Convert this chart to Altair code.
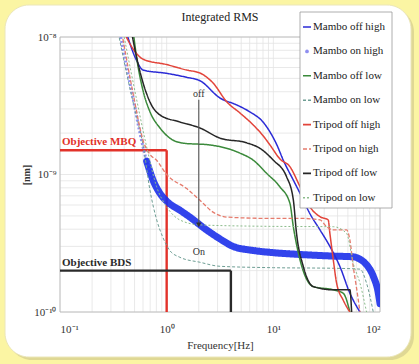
import altair as alt
import pandas as pd

# ---- series data: frequency [Hz] and integrated RMS ----
SERIES = ["Mambo off high", "Mambo on high", "Mambo off low", "Mambo on low",
          "Tripod off high", "Tripod on high", "Tripod off low", "Tripod on low"]

mambo_off_high_f = [0.42, 0.52, 0.60, 1.0, 1.54, 2.05, 3.16, 4.56, 6.04, 8.0, 9.3, 10.8, 12.4,
                    15.4, 17.8, 22.0, 27.4, 33.9, 42.1, 52.2, 64.9]
mambo_off_high_v = [1.07e-8, 6.8e-9, 5.75e-9, 5.44e-9, 5.09e-9, 4.81e-9, 3.6e-9, 3.2e-9, 2.85e-9,
                    2.41e-9, 2.04e-9, 1.64e-9, 1.27e-9, 9.1e-10, 7.3e-10, 5.2e-10, 3.95e-10,
                    3.0e-10, 2.14e-10, 1.37e-10, 1.0e-10]

mambo_on_high_f = [0.365, 0.422, 0.487, 0.562, 0.649, 0.749, 0.865, 1.0, 1.33, 1.65, 2.37, 3.16,
                   4.2, 6.49, 10.0, 17.8, 36.5, 56.0, 66.0, 75.0, 87.0, 96.0, 100.0]
mambo_on_high_v = [1.07e-8, 6.0e-9, 3.5e-9, 2.0e-9, 1.25e-9, 9.0e-10, 7.3e-10, 6.4e-10, 5.5e-10,
                   4.9e-10, 3.95e-10, 3.4e-10, 3.0e-10, 2.8e-10, 2.7e-10, 2.62e-10, 2.55e-10,
                   2.52e-10, 2.4e-10, 2.2e-10, 1.8e-10, 1.4e-10, 1.15e-10]

mambo_off_low_f = [0.487, 0.524, 0.604, 0.697, 0.865, 1.07, 1.43, 2.55, 4.87, 6.49, 8.65, 11.5,
                   14.3, 15.4, 17.8, 23.7, 36.5, 45.2, 52.2]
mambo_off_low_v = [1.07e-8, 7.0e-9, 4.0e-9, 2.86e-9, 2.18e-9, 1.84e-9, 1.69e-9, 1.64e-9, 1.43e-9,
                   1.27e-9, 1.02e-9, 8.15e-10, 6.18e-10, 4.17e-10, 2.39e-10, 1.53e-10, 1.45e-10,
                   1.37e-10, 1.0e-10]

mambo_on_low_f = [0.352, 0.422, 0.487, 0.56, 0.604, 0.697, 0.805, 0.92, 1.07, 1.33, 2.05, 3.16,
                  10.0, 36.5, 64.9, 74.8, 86.5]
mambo_on_low_v = [1.07e-8, 5.4e-9, 3.3e-9, 2.1e-9, 1.6e-9, 7.7e-10, 4.7e-10, 3.5e-10, 2.8e-10,
                  2.5e-10, 2.3e-10, 2.15e-10, 2.1e-10, 2.08e-10, 2.05e-10, 1.62e-10, 1.0e-10]

tripod_off_high_f = [0.40, 0.52, 0.60, 1.0, 1.54, 2.05, 2.72, 3.67, 4.87, 6.49, 7.9, 9.3, 11.5,
                     14.3, 17.8, 22.0, 27.4, 32.7, 33.9, 36.5, 39.2, 45.2, 52.2]
tripod_off_high_v = [1.07e-8, 7.6e-9, 6.9e-9, 6.3e-9, 5.75e-9, 5.47e-9, 4.63e-9, 3.37e-9, 2.8e-9,
                     2.29e-9, 1.94e-9, 1.64e-9, 1.3e-9, 1.14e-9, 8.15e-10, 5.83e-10, 4.93e-10,
                     4.67e-10, 3.73e-10, 2.39e-10, 1.62e-10, 1.22e-10, 1.0e-10]

tripod_on_high_f = [0.38, 0.487, 0.604, 0.697, 0.805, 1.0, 1.54, 2.05, 2.74, 3.65, 8.65, 17.8,
                    27.4, 31.6, 36.5, 48.6, 52.2, 56.1, 60.0, 64.9]
tripod_on_high_v = [1.07e-8, 3.8e-9, 1.75e-9, 1.4e-9, 1.27e-9, 1.0e-9, 7.9e-10, 6.5e-10, 5.3e-10,
                    4.9e-10, 4.8e-10, 4.8e-10, 4.67e-10, 4.17e-10, 3.95e-10, 3.95e-10, 3.34e-10,
                    2.14e-10, 1.53e-10, 1.0e-10]

tripod_off_low_f = [0.47, 0.524, 0.697, 0.865, 1.33, 2.05, 3.16, 5.62, 7.49, 10.0, 13.3, 15.4,
                    16.5, 19.1, 23.7, 36.5, 52.2, 54.2]
tripod_off_low_v = [1.07e-8, 7.04e-9, 3.37e-9, 2.71e-9, 2.41e-9, 2.18e-9, 1.84e-9, 1.7e-9, 1.55e-9,
                    1.27e-9, 9.64e-10, 6.53e-10, 3.73e-10, 2.14e-10, 1.53e-10, 1.45e-10, 1.45e-10,
                    1.0e-10]

tripod_on_low_f = [0.393, 0.524, 0.649, 0.805, 1.0, 1.33, 2.05, 8.65, 36.5, 48.6, 56.1, 64.9, 74.8]
tripod_on_low_v = [1.07e-8, 3.48e-9, 1.59e-9, 8.15e-10, 5.83e-10, 4.67e-10, 4.3e-10, 4.2e-10,
                   4.17e-10, 3.73e-10, 2.26e-10, 1.62e-10, 1.0e-10]

# objective limits
mbq_level, mbq_freq = 1.5e-9, 1.0
bds_level, bds_freq = 2.0e-10, 4.0
arrow_freq, arrow_top, arrow_bottom = 2.0, 3.5e-9, 4.3e-10

x_ticks = [0.1, 1, 10, 100]
y_ticks = [1e-10, 1e-9, 1e-8]

# ---- styling ----
COLORS = ["#2b2bd6", "#1c30ea", "#3b8a3b", "#6e9e94", "#e2443a", "#e57b6c", "#262626", "#8cbc8c"]
DASHES = [[1, 0], [1, 0], [1, 0], [3, 2], [1, 0], [4, 2], [1, 0], [2, 2]]
WIDTHS = [1.5, 7, 1.5, 1.0, 1.5, 1.3, 1.5, 1.0]
SERIF = "Liberation Serif"

# legend box geometry (pixels, relative to the plot area)
LEG_X0, LEG_X1, LEG_Y0, LEG_Y1 = 240, 332, -25, 171
LEG_ROW0, LEG_STEP = -10, 24.4

rows = []
for i, (fs, vs) in enumerate([
    (mambo_off_high_f, mambo_off_high_v),
    (mambo_on_high_f, mambo_on_high_v),
    (mambo_off_low_f, mambo_off_low_v),
    (mambo_on_low_f, mambo_on_low_v),
    (tripod_off_high_f, tripod_off_high_v),
    (tripod_on_high_f, tripod_on_high_v),
    (tripod_off_low_f, tripod_off_low_v),
    (tripod_on_low_f, tripod_on_low_v),
]):
    for f, v in zip(fs, vs):
        rows.append({"series": SERIES[i], "f": f, "v": v, "w": WIDTHS[i]})
df = pd.DataFrame(rows)

SUP = str.maketrans("-0123456789", "⁻⁰¹²³⁴⁵⁶⁷⁸⁹")


def pow_label_expr(ticks, exps):
    expr = "'10" + str(exps[-1]).translate(SUP) + "'"
    for t, e in reversed(list(zip(ticks[:-1], exps[:-1]))):
        expr = f"datum.value < {t * 3} ? '10{str(e).translate(SUP)}' : " + expr
    return expr


x_scale = alt.Scale(type="log", domain=[0.1, 100], nice=False)
y_scale = alt.Scale(type="log", domain=[1e-10, 1e-8], nice=False)

x_axis = alt.Axis(values=x_ticks, labelExpr=pow_label_expr(x_ticks, [-1, 0, 1, 2]),
                  grid=False, ticks=False, domain=False, title="Frequency[Hz]",
                  labelFont=SERIF, labelFontSize=11, labelColor="#333", labelPadding=11,
                  titleFont=SERIF, titleFontSize=11, titleFontWeight="normal",
                  titleColor="#333", titlePadding=5, zindex=1)
y_axis = alt.Axis(values=y_ticks, labelExpr=pow_label_expr(y_ticks, [-10, -9, -8]),
                  grid=False, ticks=False, domain=False, title="[nm]",
                  labelFont=SERIF, labelFontSize=11, labelColor="#333", labelPadding=4,
                  titleFont=SERIF, titleFontSize=10, titleFontWeight="bold",
                  titleColor="#333", titlePadding=2, zindex=1)

X = alt.X("f:Q", scale=x_scale, axis=x_axis)
Y = alt.Y("v:Q", scale=y_scale, axis=y_axis)

color = alt.Color("series:N", scale=alt.Scale(domain=SERIES, range=COLORS), legend=None)
dash = alt.StrokeDash("series:N", scale=alt.Scale(domain=SERIES, range=DASHES), legend=None)
width = alt.StrokeWidth("w:Q", scale=None)

one = pd.DataFrame({"k": [0]})

# white rounded panel with a soft shadow
shadow = alt.Chart(one).mark_rect(fill="#d8d190", cornerRadius=24, opacity=0.8).encode(
    x=alt.value(-52), x2=alt.value(354), y=alt.value(-29), y2=alt.value(323))
panel = alt.Chart(one).mark_rect(fill="white", cornerRadius=24, stroke="#ebe6b8").encode(
    x=alt.value(-55), x2=alt.value(351), y=alt.value(-32), y2=alt.value(320))

# log grid lines at 1..9 x 10^k
x_grid = [m * 10 ** k for k in (-1, 0, 1) for m in range(1, 10)] + [100]
y_grid = [m * 10 ** k for k in (-10, -9) for m in range(1, 10)] + [1e-8]
grid_x = alt.Chart(pd.DataFrame({"f": x_grid})).mark_rule(color="#e3e3e3", strokeWidth=0.8).encode(x=X)
grid_y = alt.Chart(pd.DataFrame({"v": y_grid})).mark_rule(color="#e3e3e3", strokeWidth=0.8).encode(y=Y)
frame = alt.Chart(one).mark_rect(fill=None, stroke="#b5b5b5", strokeWidth=0.8).encode(
    x=alt.value(0), x2=alt.value(320), y=alt.value(0), y2=alt.value(275))

# chart title
title = alt.Chart(pd.DataFrame({"t": ["Integrated RMS"]})).mark_text(
    font=SERIF, fontSize=12, color="#222", baseline="middle").encode(
    x=alt.value(160), y=alt.value(-20), text="t:N")

# objectives
obj = pd.DataFrame([
    {"f": 0.1, "f2": mbq_freq, "v": mbq_level, "v2": mbq_level, "c": "#e2322a"},
    {"f": mbq_freq, "f2": mbq_freq, "v": mbq_level, "v2": 1e-10, "c": "#e2322a"},
    {"f": 0.1, "f2": bds_freq, "v": bds_level, "v2": bds_level, "c": "#2a2a2a"},
    {"f": bds_freq, "f2": bds_freq, "v": bds_level, "v2": 1e-10, "c": "#2a2a2a"},
])
obj_rules = alt.Chart(obj).mark_rule(strokeWidth=2.4).encode(
    x=X, x2="f2:Q", y=Y, y2="v2:Q", color=alt.Color("c:N", scale=None, legend=None))
obj_text = alt.Chart(pd.DataFrame([
    {"f": 0.1, "v": mbq_level, "t": "Objective MBQ", "c": "#e2322a"},
    {"f": 0.1, "v": bds_level, "t": "Objective BDS", "c": "#2a2a2a"},
])).mark_text(align="left", baseline="bottom", dx=2, dy=-3, font=SERIF, fontSize=11,
              fontWeight="bold").encode(
    x=X, y=Y, text="t:N", color=alt.Color("c:N", scale=None, legend=None))

# curves: "on high" marker trace first (sparse dots on the steep part, dense band after),
# then the other traces on top
on_high = df[df.series == SERIES[1]]
band_steep = alt.Chart(on_high[on_high.f <= 0.75]).mark_line(
    color="#7d7ff0", strokeWidth=3, strokeDash=[2, 2], opacity=0.85, clip=True,
    interpolate="monotone").encode(x=X, y=Y)
band = alt.Chart(on_high[on_high.f >= 0.64]).mark_line(
    opacity=0.9, clip=True, interpolate="monotone", strokeCap="round").encode(
    x=X, y=Y, color=color, strokeDash=dash, strokeWidth=width)
lines = alt.Chart(df[df.series != SERIES[1]]).mark_line(
    clip=True, interpolate="monotone").encode(
    x=X, y=Y, color=color, strokeDash=dash, strokeWidth=width)

# off -> on arrow
arrow_df = pd.DataFrame({"f": [arrow_freq], "v": [arrow_top], "v2": [arrow_bottom]})
arrow_line = alt.Chart(arrow_df).mark_rule(color="#555", strokeWidth=1.1).encode(x=X, y=Y, y2="v2:Q")
arrow_head = alt.Chart(pd.DataFrame({"f": [arrow_freq], "v": [arrow_bottom]})).mark_point(
    shape="triangle-down", filled=True, color="#333", size=28, opacity=1).encode(x=X, y=Y)
off_text = alt.Chart(pd.DataFrame([{"f": arrow_freq, "v": arrow_top, "t": "off"}])).mark_text(
    baseline="bottom", dy=-1, font=SERIF, fontSize=10, color="#333").encode(x=X, y=Y, text="t:N")
on_text = alt.Chart(pd.DataFrame([{"f": arrow_freq, "v": 2.75e-10, "t": "On"}])).mark_text(
    baseline="middle", font=SERIF, fontSize=10, color="#333").encode(x=X, y=Y, text="t:N")

# legend: box, line samples and labels, one row per series
leg = pd.DataFrame({"series": SERIES,
                    "ly": [LEG_ROW0 + LEG_STEP * i for i in range(len(SERIES))]})
LY = alt.Y("ly:Q", scale=None, axis=None)
leg_box = alt.Chart(one).mark_rect(fill="white", stroke="#9a9a9a", strokeWidth=0.8).encode(
    x=alt.value(LEG_X0), x2=alt.value(LEG_X1), y=alt.value(LEG_Y0), y2=alt.value(LEG_Y1))
leg_lines = alt.Chart(leg[leg.series != SERIES[1]]).mark_rule(strokeWidth=1.6).encode(
    x=alt.value(LEG_X0 + 3), x2=alt.value(LEG_X0 + 11), y=LY, color=color, strokeDash=dash)
leg_dot = alt.Chart(leg[leg.series == SERIES[1]]).mark_point(
    shape="circle", filled=True, size=14, color="#8f8ff0", opacity=1).encode(
    x=alt.value(LEG_X0 + 7), y=LY)
leg_text = alt.Chart(leg).mark_text(align="left", baseline="middle", font=SERIF, fontSize=11,
                                    color="#222").encode(
    x=alt.value(LEG_X0 + 13), y=LY, text="series:N")

chart = alt.layer(
    shadow, panel, grid_x, grid_y, frame, obj_rules, band_steep, band, lines, obj_text,
    arrow_line, arrow_head, off_text, on_text, title,
    leg_box, leg_lines, leg_dot, leg_text,
).properties(
    width=320, height=275,
    autosize=alt.AutoSizeParams(type="none"),
    padding={"left": 60, "top": 37, "right": 39, "bottom": 52},
    background="#fbf5a3",
).configure_view(stroke=None)

chart.save("out.html", embed_options={"renderer": "svg", "actions": False})
